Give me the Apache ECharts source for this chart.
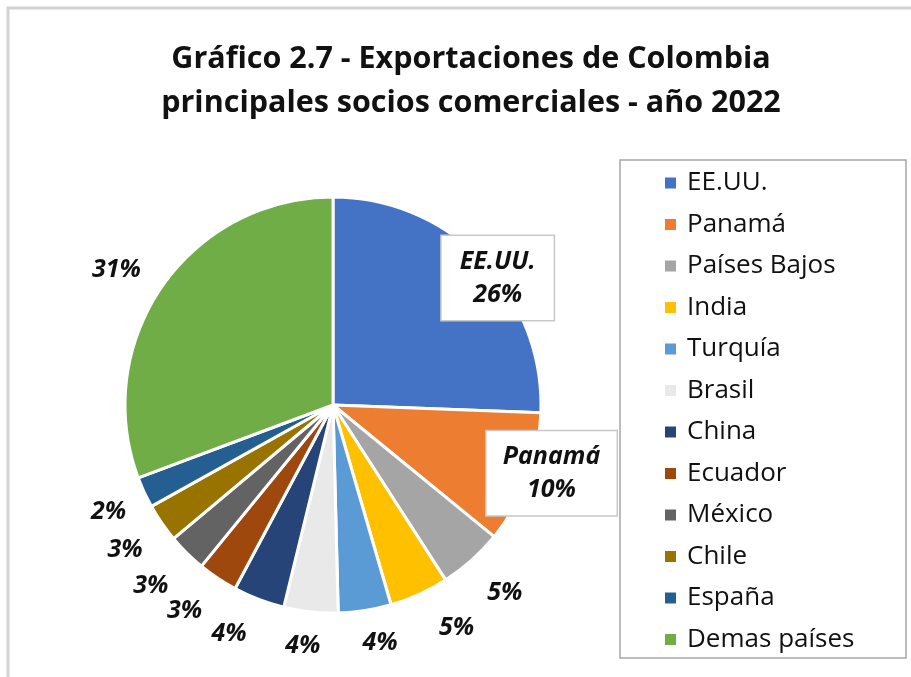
<!DOCTYPE html>
<html>
<head>
<meta charset="utf-8">
<script src="https://cdn.jsdelivr.net/npm/echarts@6/dist/echarts.min.js"></script>
<style>
  html, body { margin: 0; padding: 0; background: #fff; }
  #main { width: 911px; height: 677px; }
</style>
</head>
<body>
<div id="main"></div>
<script>
// datos del gráfico (% de las exportaciones)
var paises = ['EE.UU.', 'Panamá', 'Países Bajos', 'India', 'Turquía', 'Brasil', 'China', 'Ecuador', 'México', 'Chile', 'España', 'Demas países'];
var porcentajes = [25.6, 10.3, 5.0, 4.6, 4.1, 4.2, 4.0, 3.1, 3.0, 3.0, 2.4, 30.7];
var colores = ['#4472C4', '#ED7D31', '#A5A5A5', '#FFC000', '#5B9BD5', '#E9E9E9', '#264478', '#9E480E', '#636363', '#997300', '#255E91', '#70AD47'];

// pequeños ajustes manuales de las etiquetas (como en el original)
var ajustes = [[-19, 50], [-20, -22], [2, -2], [18, -9], [8, -14], [-3, -13], [-13, -9], [-7, -6], [-3, -1], [2, 0], [7, 0], [-7, 10]];

var fuente = '"Open Sans", Lato, sans-serif';

var datosPie = paises.map(function (p, i) {
    return { name: p, value: porcentajes[i], itemStyle: { color: colores[i] } };
});

// anillo invisible solo para colocar las etiquetas
var datosEtiquetas = paises.map(function (p, i) {
    var d = { name: p, value: porcentajes[i] };
    if (i < 2) {
        d.label = {
            formatter: function (prm) { return prm.name + '\n' + Math.round(prm.value) + '%'; },
            backgroundColor: '#fff',
            borderColor: '#c8c8c8',
            borderWidth: 1.5,
            width: i === 0 ? 112 : 130,
            height: 84,
            lineHeight: 33,
            align: 'center',
            verticalAlign: 'middle'
        };
    }
    return d;
});

var myChart = echarts.init(document.getElementById('main'));

var option = {
    backgroundColor: '#fff',
    title: {
        text: 'Gráfico 2.7 - Exportaciones de Colombia\nprincipales socios comerciales - año 2022',
        left: 466,
        textAlign: 'center',
        top: 32,
        textStyle: {
            fontFamily: fuente,
            fontWeight: 'bold',
            fontSize: 30.5,
            lineHeight: 44,
            color: '#111'
        }
    },
    legend: {
        orient: 'vertical',
        left: 658,
        top: 165,
        height: 520,
        data: paises,
        icon: 'rect',
        itemWidth: 13,
        itemHeight: 13,
        itemGap: 15.5,
        selectedMode: false,
        textStyle: {
            fontFamily: fuente,
            fontSize: 26,
            lineHeight: 26,
            color: '#111',
            padding: [0, 0, 0, 5]
        }
    },
    graphic: [
        // marco exterior
        { type: 'rect', shape: { x: 8, y: 8, width: 1000, height: 800 }, style: { fill: 'none', stroke: '#d2d2d2', lineWidth: 3 }, silent: true },
        // marco de la leyenda
        { type: 'rect', shape: { x: 620, y: 160, width: 286, height: 498 }, style: { fill: 'none', stroke: '#a6a6a6', lineWidth: 1.5 }, silent: true, z: 10 }
    ],
    series: [
        {
            type: 'pie',
            center: [333, 405],
            radius: 208,
            startAngle: 90,
            clockwise: true,
            data: datosPie,
            label: { show: false },
            labelLine: { show: false },
            itemStyle: { borderColor: '#fff', borderWidth: 3 },
            emphasis: { disabled: true }
        },
        {
            type: 'pie',
            center: [333, 405],
            radius: [230, 274],
            startAngle: 90,
            clockwise: true,
            data: datosEtiquetas,
            itemStyle: { color: 'rgba(0,0,0,0)' },
            emphasis: { disabled: true },
            silent: true,
            label: {
                show: true,
                position: 'inner',
                formatter: function (prm) { return Math.round(prm.value) + '%'; },
                fontFamily: fuente,
                fontWeight: 'bold',
                fontStyle: 'italic',
                fontSize: 25,
                color: '#111'
            },
            labelLine: { show: false },
            labelLayout: function (params) {
                var a = ajustes[params.dataIndex];
                return { dx: a[0], dy: a[1] };
            }
        }
    ]
};

myChart.setOption(option);
</script>
</body>
</html>
